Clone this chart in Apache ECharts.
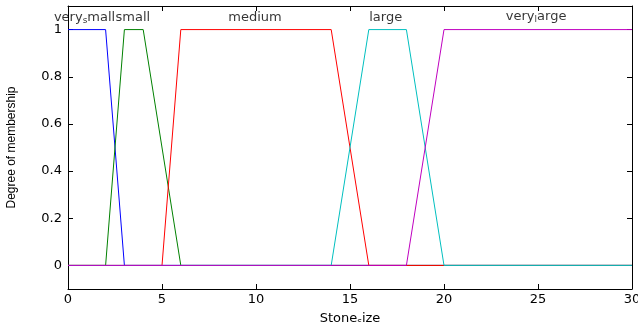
<!DOCTYPE html>
<html><head><meta charset="utf-8">
<script src="https://cdn.jsdelivr.net/npm/echarts@6/dist/echarts.min.js"></script>
<style>html,body{margin:0;padding:0;background:#fff}#c{width:638px;height:322px}</style>
</head><body><div id="c"></div>
<script>
const verySmall = [[0,1],[2,1],[3,0],[30,0]];
const small = [[0,0],[2,0],[3,1],[4,1],[6,0],[30,0]];
const medium = [[0,0],[5,0],[6,1],[14,1],[16,0],[30,0]];
const large = [[0,0],[14,0],[16,1],[18,1],[20,0],[30,0]];
const veryLarge = [[0,0],[18,0],[20,1],[30,1]];
const mfLabels = ['{a|very}{s|s}{a|mall}','{a|small}','{a|medium}','{a|large}','{a|very}{s|l}{a|arge}'];
const mfLabelPos = [[0.88,1.05],[3.45,1.05],[9.95,1.05],[16.9,1.05],[24.9,1.055]];
const yTicks = [0,0.2,0.4,0.6,0.8,1];
const colors = ['#0000ff','#008000','#ff0000','#00bfbf','#bf00bf'];

const font = 'DejaVu Sans, sans-serif';
const rich = {
  a:{fontFamily:font,fontSize:13,color:'#000',lineHeight:14},
  s:{fontFamily:font,fontSize:9,color:'#000',lineHeight:14,padding:[6,0,0,0]}
};
const chart = echarts.init(document.getElementById('c'));
const lineS = (d,i)=>({type:'line',data:d,symbol:'none',animation:false,lineStyle:{color:colors[i],width:1},itemStyle:{color:colors[i]},z:2+i});
const axLine = {show:true,onZero:false,lineStyle:{color:'#000',width:1}};
chart.setOption({
  animation:false,
  grid:{left:68,right:6,top:6,bottom:33,containLabel:false,outerBoundsMode:'none'},
  xAxis:[{type:'value',min:0,max:30,interval:5,
    axisLine:axLine,
    axisTick:{show:true,inside:true,length:5,lineStyle:{color:'#000'}},
    axisLabel:{color:'#000',fontSize:13,fontFamily:font,margin:4},
    splitLine:{show:false},
    name:'{a|Stone}{s|s}{a|ize}',nameLocation:'middle',nameGap:16,
    nameTextStyle:{rich:rich}},
   {type:'value',position:'top',min:0,max:30,interval:5,
    axisLine:axLine,
    axisTick:{show:true,inside:true,length:5,lineStyle:{color:'#000'}},
    axisLabel:{show:false},splitLine:{show:false}}],
  yAxis:[{type:'value',min:-0.1,max:1.1,
    axisLine:axLine,
    axisTick:{show:true,inside:true,length:5,customValues:yTicks,lineStyle:{color:'#000'}},
    axisLabel:{color:'#000',fontSize:13,fontFamily:font,margin:6,customValues:yTicks},
    splitLine:{show:false},
    name:'Degree of membership',nameLocation:'middle',nameGap:50,nameRotate:90,
    nameTextStyle:{color:'#000',fontSize:12,fontFamily:'Liberation Sans, Arial, sans-serif'}},
   {type:'value',position:'right',min:-0.1,max:1.1,
    axisLine:axLine,
    axisTick:{show:true,inside:true,length:5,customValues:yTicks,lineStyle:{color:'#000'}},
    axisLabel:{show:false},splitLine:{show:false}}],
  series:[
    lineS(verySmall,0),lineS(small,1),lineS(medium,2),lineS(large,3),lineS(veryLarge,4),
    {type:'scatter',symbolSize:0,data:mfLabelPos.map((p,i)=>({value:p,label:{formatter:mfLabels[i]}})),
     label:{show:true,position:'inside',rich:rich},z:10,silent:true}
  ]
});
</script></body></html>
